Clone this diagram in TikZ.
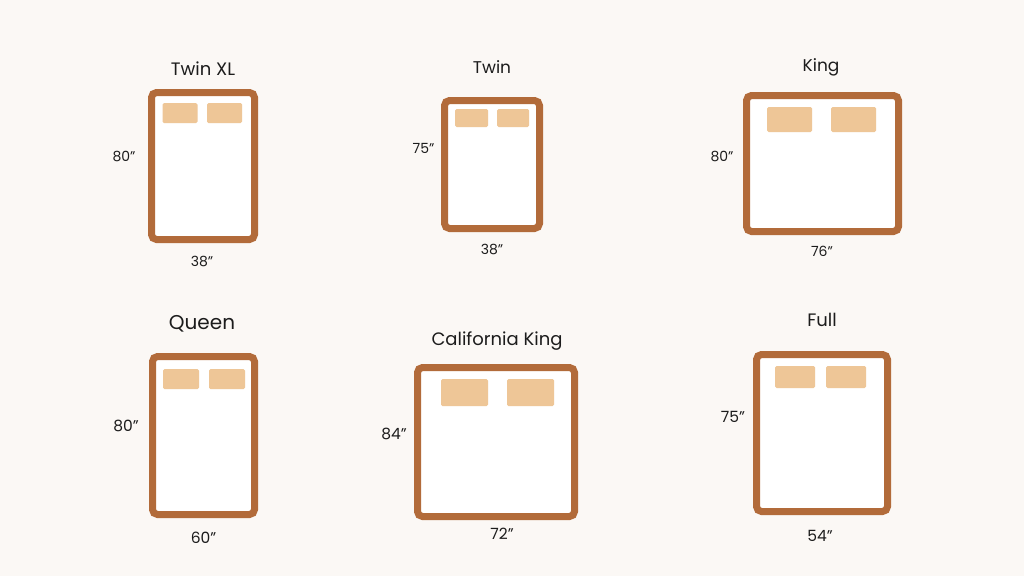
\documentclass[tikz,border=0pt]{standalone}
\usepackage{fontspec}
\setmainfont{Poppins}
\usepackage{xcolor}
\usetikzlibrary{positioning}
\definecolor{bgcream}{HTML}{FBF8F5}
\definecolor{bedbrown}{HTML}{B26B3A}
\definecolor{pillowtan}{HTML}{EEC697}
\definecolor{inkgray}{HTML}{1C1C1C}
\newcommand{\inchmark}{\symbol{34}}
\tikzstyle{bedframe} = [draw=bedbrown, fill=white, line width=7pt,
rectangle, rounded corners=5pt, inner sep=0pt]
\tikzstyle{pillow} = [fill=pillowtan, rectangle, rounded corners=1.5pt, inner sep=0pt]
\tikzstyle{bedtitle} = [text=inkgray, anchor=base, inner sep=0pt]
\tikzstyle{dimlabel} = [text=inkgray, anchor=base, inner sep=0pt, font=\fontsize{14}{16}\selectfont]
\tikzstyle{dimlabelbig} = [dimlabel, font=\fontsize{15.5}{17}\selectfont]

\begin{document}
\begin{tikzpicture}[x=1pt, y=-1pt]
        \fill[bgcream] (0,0) rectangle (1024,576);
        \useasboundingbox (0,0) rectangle (1024,576);

        % top row
        \node[bedframe, minimum width=103pt, minimum height=147pt] (twinxl) at (203,166) {};
        \node[pillow, minimum width=35pt, minimum height=20pt] (twinxlpa) at (180,113) {};
        \node[pillow, minimum width=35pt, minimum height=20pt] (twinxlpb) at (224.5,113) {};
        \node[bedtitle, font=\fontsize{18}{20}\selectfont] (twinxltitle) at (203,75) {Twin XL};
        \node[dimlabel] (twinxlside) at (124,161.5) {80\inchmark};
        \node[dimlabel] (twinxlfoot) at (202,266) {38\inchmark};

        \node[bedframe, minimum width=95pt, minimum height=128pt] (twin) at (492,164.5) {};
        \node[pillow, minimum width=33pt, minimum height=18pt] (twinpa) at (471.5,118) {};
        \node[pillow, minimum width=32pt, minimum height=18pt] (twinpb) at (513,118) {};
        \node[bedtitle, font=\fontsize{17}{19}\selectfont] (twintitle) at (492,73.3) {Twin};
        \node[dimlabel] (twinside) at (423.5,153.3) {75\inchmark};
        \node[dimlabel] (twinfoot) at (492,254) {38\inchmark};

        \node[bedframe, minimum width=152pt, minimum height=136pt] (king) at (822.5,163.5) {};
        \node[pillow, minimum width=45pt, minimum height=25pt] (kingpa) at (789.5,119.5) {};
        \node[pillow, minimum width=45pt, minimum height=25pt] (kingpb) at (853.5,119.5) {};
        \node[bedtitle, font=\fontsize{17}{19}\selectfont] (kingtitle) at (821,71.7) {King};
        \node[dimlabel] (kingside) at (722,161) {80\inchmark};
        \node[dimlabel] (kingfoot) at (822,256.7) {76\inchmark};

        % bottom row
        \node[bedframe, minimum width=102pt, minimum height=158pt] (queen) at (203.5,435.5) {};
        \node[pillow, minimum width=36pt, minimum height=20pt] (queenpa) at (181,379) {};
        \node[pillow, minimum width=36pt, minimum height=20pt] (queenpb) at (227,379) {};
        \node[bedtitle, font=\fontsize{20}{22}\selectfont] (queentitle) at (202,329) {Queen};
        \node[dimlabelbig] (queenside) at (126,431.7) {80\inchmark};
        \node[dimlabelbig] (queenfoot) at (203.5,543.3) {60\inchmark};

        \node[bedframe, minimum width=157pt, minimum height=149pt] (calking) at (496,442) {};
        \node[pillow, minimum width=47pt, minimum height=27pt] (calkingpa) at (464.5,392.5) {};
        \node[pillow, minimum width=47pt, minimum height=27pt] (calkingpb) at (530.5,392.5) {};
        \node[bedtitle, font=\fontsize{18}{20}\selectfont] (calkingtitle) at (497,345) {California King};
        \node[dimlabelbig] (calkingside) at (394,439) {84\inchmark};
        \node[dimlabelbig] (calkingfoot) at (502,539) {72\inchmark};

        \node[bedframe, minimum width=131pt, minimum height=157pt] (full) at (822,433) {};
        \node[pillow, minimum width=40pt, minimum height=22pt] (fullpa) at (795,377) {};
        \node[pillow, minimum width=40pt, minimum height=22pt] (fullpb) at (846,377) {};
        \node[bedtitle, font=\fontsize{18}{20}\selectfont] (fulltitle) at (822,326) {Full};
        \node[dimlabelbig] (fullside) at (733,422) {75\inchmark};
        \node[dimlabelbig] (fullfoot) at (820,541) {54\inchmark};
\end{tikzpicture}
\end{document}
